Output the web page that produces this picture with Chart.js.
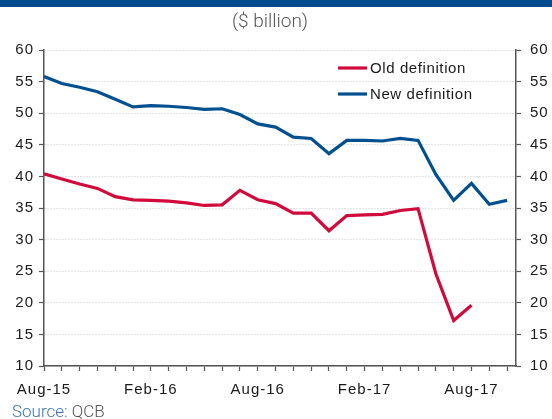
<!DOCTYPE html>
<html>
<head>
<meta charset="utf-8">
<script src="https://cdn.jsdelivr.net/npm/chart.js@4/dist/chart.umd.min.js"></script>
<style>
    html, body { margin: 0; padding: 0; background: #fff; }
    #wrap { position: relative; width: 552px; height: 419px; overflow: hidden; }
    #band { position: absolute; left: 0; top: 0; width: 552px; height: 7px; background: #004B8D; }
    #unit { position: absolute; left: 0; top: 9px; width: 540px; text-align: center;
            font-family: Roboto, 'Noto Sans', sans-serif; font-weight: 300; font-size: 19px; color: #555; }
    #source { position: absolute; left: 12px; top: 401px; font-family: Roboto, 'Noto Sans', sans-serif;
              font-weight: 300; font-size: 17px; color: #555; }
    #source span { color: #3C74B6; }
    canvas { position: absolute; left: 0; top: 0; }
</style>
</head>
<body>
<div id="wrap">
    <canvas id="chart" width="552" height="419"></canvas>
    <div id="band"></div>
    <div id="unit">($ billion)</div>
    <div id="source"><span>Source:</span> QCB</div>
</div>
<script>
// 월별 라벨 (Aug-15 ~ Oct-17)
const months = ['Aug-15', 'Sep-15', 'Oct-15', 'Nov-15', 'Dec-15', 'Jan-16', 'Feb-16', 'Mar-16', 'Apr-16',
    'May-16', 'Jun-16', 'Jul-16', 'Aug-16', 'Sep-16', 'Oct-16', 'Nov-16', 'Dec-16', 'Jan-17', 'Feb-17',
    'Mar-17', 'Apr-17', 'May-17', 'Jun-17', 'Jul-17', 'Aug-17', 'Sep-17', 'Oct-17'];
const shownLabels = ['Aug-15', 'Feb-16', 'Aug-16', 'Feb-17', 'Aug-17'];
const yTicks = [10, 15, 20, 25, 30, 35, 40, 45, 50, 55, 60];

const oldDef = [40.4, 39.6, 38.8, 38.1, 36.8, 36.3, 36.2, 36.1, 35.8, 35.4, 35.5, 37.8, 36.3, 35.7,
    34.2, 34.2, 31.4, 33.8, 33.9, 34.0, 34.6, 34.9, 24.6, 17.2, 19.6];
const newDef = [55.8, 54.7, 54.1, 53.4, 52.2, 51.0, 51.2, 51.1, 50.9, 50.6, 50.7, 49.8, 48.3, 47.8,
    46.2, 46.0, 43.6, 45.7, 45.7, 45.6, 46.0, 45.7, 40.3, 36.2, 38.9, 35.6, 36.2];

const RED = '#D20A3C';
const BLUE = '#00508F';
const AXIS = '#555';
const TEXT = '#1a1a1a';
const tickFont = { family: "'Liberation Sans', Arial, sans-serif", size: 15 };

const toPoints = arr => arr.map((v, i) => ({ x: i, y: v }));

// 차트 영역 안쪽 범례
const innerLegend = {
    id: 'innerLegend',
    afterDraw(chart) {
        const ctx = chart.ctx;
        ctx.save();
        ctx.letterSpacing = '0.6px';
        ctx.font = "15px 'Liberation Sans', Arial, sans-serif";
        ctx.textBaseline = 'middle';
        chart.data.datasets.forEach((ds, i) => {
            const y = 68 + i * 26;
            ctx.strokeStyle = ds.borderColor;
            ctx.lineWidth = 3.2;
            ctx.beginPath();
            ctx.moveTo(338, y);
            ctx.lineTo(367, y);
            ctx.stroke();
            ctx.fillStyle = TEXT;
            ctx.fillText(ds.label, 370, y + 1);
        });
        ctx.restore();
    }
};

const spacing = {
    id: 'spacing',
    beforeDraw(chart) { chart.ctx.letterSpacing = '1px'; }
};

new Chart(document.getElementById('chart'), {
    type: 'line',
    data: {
        datasets: [
            { label: 'Old definition', data: toPoints(oldDef), borderColor: RED, borderWidth: 3.2, pointRadius: 0, tension: 0 },
            { label: 'New definition', data: toPoints(newDef), borderColor: BLUE, borderWidth: 3.2, pointRadius: 0, tension: 0 }
        ]
    },
    options: {
        responsive: false,
        animation: false,
        layout: { padding: { top: 50, left: 0, right: 0, bottom: 0 } },
        scales: {
            x: {
                type: 'linear',
                min: 0,
                max: months.length - 0.5,
                afterBuildTicks: s => { s.ticks = months.map((_, i) => ({ value: i })); },
                afterFit: s => { s.height = 53; },
                ticks: {
                    autoSkip: false,
                    maxRotation: 0,
                    padding: 10,
                    color: TEXT,
                    font: tickFont,
                    callback: v => shownLabels.includes(months[v]) ? months[v] : ''
                },
                grid: { drawOnChartArea: false, drawTicks: true, tickLength: 5, tickColor: AXIS, tickWidth: 1.2 },
                border: { color: AXIS, width: 1.5 }
            },
            y: {
                position: 'left',
                min: 10,
                max: 60,
                afterBuildTicks: s => { s.ticks = yTicks.map(v => ({ value: v })); },
                afterFit: s => { s.width = 44; },
                ticks: { padding: 5, color: TEXT, font: tickFont },
                grid: { color: '#C8C8C8', lineWidth: 1, tickLength: 5, tickColor: AXIS, tickWidth: 1.2 },
                border: { color: AXIS, width: 1.5, dash: [1, 2] }
            },
            y2: {
                position: 'right',
                min: 10,
                max: 60,
                afterBuildTicks: s => { s.ticks = yTicks.map(v => ({ value: v })); },
                afterFit: s => { s.width = 36; },
                ticks: { padding: 9, color: TEXT, font: tickFont },
                grid: { drawOnChartArea: false, tickLength: 5, tickColor: AXIS, tickWidth: 1.2 },
                border: { color: AXIS, width: 1.5 }
            }
        },
        plugins: {
            legend: { display: false },
            tooltip: { enabled: false }
        }
    },
    plugins: [spacing, innerLegend]
});
</script>
</body>
</html>
